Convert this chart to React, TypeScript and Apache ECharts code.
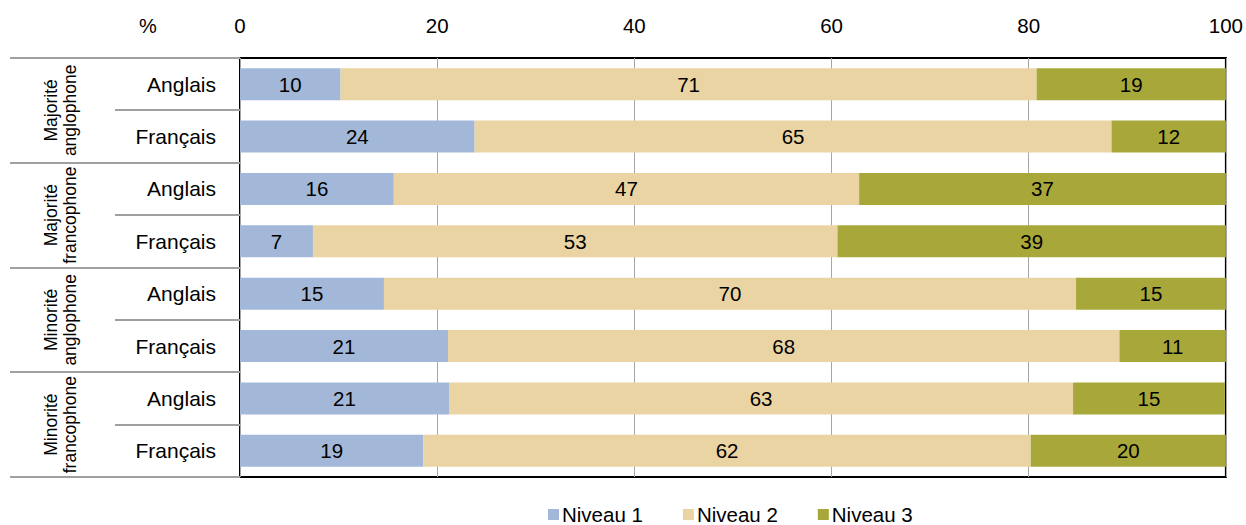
import React, { useEffect, useRef } from "react";
import * as echarts from "echarts";

const categories = ["Anglais", "Français", "Anglais", "Français", "Anglais", "Français", "Anglais", "Français"];
const groups = ["Majorité\nanglophone", "Majorité\nfrancophone", "Minorité\nanglophone", "Minorité\nfrancophone"];
const niveau1 = [10.2, 23.8, 15.6, 7.4, 14.6, 21.1, 21.2, 18.6];
const niveau2 = [70.6, 64.6, 47.2, 53.2, 70.2, 68.1, 63.3, 61.6];
const niveau3 = [19.2, 11.6, 37.2, 39.4, 15.2, 10.8, 15.4, 19.8];
const seriesNames = ["Niveau 1", "Niveau 2", "Niveau 3"];
const colors = ["#A3B8D8", "#EBD4A3", "#A8A83A"];

const FONT = "Liberation Sans, Arial, sans-serif";

export default function App() {
  const ref = useRef<HTMLDivElement>(null);
  useEffect(() => {
    const chart = echarts.init(ref.current!, undefined, { renderer: "svg" });
    const gridLeft = 240, gridTop = 58, gridRight = 1229, gridBottom = 477;
    const band = (gridBottom - gridTop) / categories.length;
    const graphics: any[] = [];
    graphics.push({ type: "text", left: 139, top: 16, style: { text: "%", font: `20px ${FONT}`, fill: "#000" } });
    for (let g = 0; g <= groups.length; g++) {
      const y = Math.round(gridTop + g * 2 * band);
      graphics.push({ type: "line", shape: { x1: 10, y1: y, x2: gridLeft, y2: y }, style: { stroke: "#A0A0A0", lineWidth: 2 } });
    }
    for (let g = 0; g < groups.length; g++) {
      const y = Math.round(gridTop + (g * 2 + 1) * band);
      graphics.push({ type: "line", shape: { x1: 115, y1: y, x2: gridLeft, y2: y }, style: { stroke: "#A0A0A0", lineWidth: 2 } });
      const cy = gridTop + (g * 2 + 1) * band;
      graphics.push({
        type: "text",
        x: 60,
        y: cy,
        rotation: Math.PI / 2,
        style: { text: groups[g], font: `17.5px ${FONT}`, fill: "#000", align: "center", verticalAlign: "middle", lineHeight: 19 },
      });
    }
    const data = [niveau1, niveau2, niveau3];
    chart.setOption({
      animation: false,
      grid: {
        left: gridLeft, top: gridTop, right: 1246 - gridRight, bottom: 525 - gridBottom,
        show: true, borderColor: "#000", borderWidth: 2, backgroundColor: "transparent",
      },
      xAxis: {
        type: "value", position: "top", min: 0, max: 100, interval: 20,
        axisLine: { show: false }, axisTick: { show: false },
        axisLabel: { fontSize: 20.5, color: "#000", fontFamily: FONT, margin: 22 },
        splitLine: { show: true, lineStyle: { color: "#A6A6A6", width: 1 } },
      },
      yAxis: {
        type: "category", inverse: true, data: categories,
        axisLine: { show: false }, axisTick: { show: false },
        axisLabel: { fontSize: 21, color: "#000", fontFamily: FONT, margin: 24 },
      },
      legend: {
        bottom: -5, left: 543, itemWidth: 11, itemHeight: 11, itemGap: 40, icon: "rect",
        textStyle: { fontSize: 20.5, color: "#000", fontFamily: FONT, padding: [0, 0, 0, -2] },
        data: seriesNames,
      },
      series: data.map((d, i) => ({
        name: seriesNames[i], type: "bar", stack: "total", data: d, barWidth: 32,
        itemStyle: { color: colors[i] },
        label: {
          show: true, position: "inside", color: "#000", fontSize: 20.5, fontFamily: FONT,
          formatter: (p: any) => String(Math.round(p.value)),
        },
      })),
      graphic: graphics,
    });
    return () => chart.dispose();
  }, []);
  return <div ref={ref} style={{ width: 1246, height: 525, position: "absolute", left: 0, top: 0 }} />;
}
